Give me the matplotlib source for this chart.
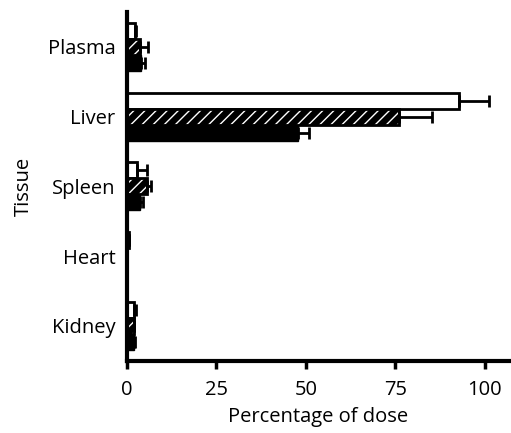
import numpy as np
import matplotlib
matplotlib.use("Agg")
import matplotlib.pyplot as plt

plt.rcParams['font.family'] = ['Open Sans', 'DejaVu Sans']
plt.rcParams['hatch.linewidth'] = 1.0

# --- data ---
tissues = ['Plasma', 'Liver', 'Spleen', 'Heart', 'Kidney']
white_vals = [2.3, 92.9, 2.8, 0.5, 2.1]
white_err = [0.2, 8.3, 2.8, 0.0, 0.5]
hatch_vals = [3.7, 75.9, 5.6, 0.1, 1.9]
hatch_err = [2.3, 9.3, 1.2, 0.0, 0.2]
black_vals = [4.0, 47.8, 3.7, 0.1, 1.9]
black_err = [1.1, 3.2, 0.9, 0.0, 0.4]

pos = np.arange(len(tissues))
h = 0.23

fig = plt.figure(figsize=(5.11, 4.33), dpi=100)
ax = fig.add_axes([0.248, 0.167, 0.75, 0.805])

err_kw = dict(ecolor='black', elinewidth=2, capsize=4, capthick=2)

# white bars (top of each group)
ax.barh(pos - h, white_vals, height=h, color='white', edgecolor='black',
        linewidth=2, xerr=[np.zeros(5), white_err], error_kw=err_kw, zorder=2)

# hatched bars: black fill with white stripes, then black outline
ax.barh(pos, hatch_vals, height=h, facecolor='black', edgecolor='white',
        hatch='///', linewidth=0, zorder=2)
ax.barh(pos, hatch_vals, height=h, color='none', edgecolor='black',
        linewidth=2, xerr=[np.zeros(5), hatch_err], error_kw=err_kw, zorder=3)

# solid black bars
ax.barh(pos + h, black_vals, height=h, color='black', edgecolor='black',
        linewidth=1, xerr=[np.zeros(5), black_err], error_kw=err_kw, zorder=2)

ax.set_ylim(len(tissues) - 0.5, -0.5)
ax.set_xlim(0, 107)
ax.set_yticks(pos)
ax.set_yticklabels(tissues, fontsize=14.5)
ax.set_xticks([0, 25, 50, 75, 100])
ax.tick_params(axis='x', labelsize=14.5, length=6, width=2.5, pad=8)
ax.tick_params(axis='y', length=0, pad=8)
ax.set_xlabel('Percentage of dose', fontsize=14.5, labelpad=5)
ax.set_ylabel('Tissue', fontsize=14.5, labelpad=10)

for side in ['top', 'right']:
    ax.spines[side].set_visible(False)
for side in ['left', 'bottom']:
    ax.spines[side].set_linewidth(3)

fig.savefig('out.png', dpi=100)
